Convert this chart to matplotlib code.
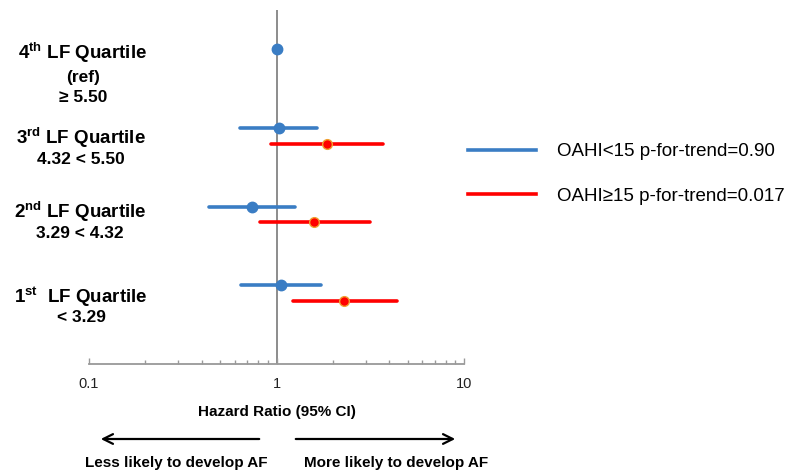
import numpy as np
import matplotlib
matplotlib.use("Agg")
import matplotlib.pyplot as plt
from matplotlib.lines import Line2D
from matplotlib.ticker import LogLocator, NullFormatter, FixedLocator, FixedFormatter

plt.rcParams['font.family'] = ['Liberation Sans', 'DejaVu Sans']
plt.rcParams['mathtext.fontset'] = 'custom'
plt.rcParams['mathtext.rm'] = 'Liberation Sans'
plt.rcParams['mathtext.bf'] = 'Liberation Sans:bold'

# quartile rows, top to bottom
row_titles = ['4$^{\\mathbf{th}}$ LF Quartile', '3$^{\\mathbf{rd}}$ LF Quartile',
              '2$^{\\mathbf{nd}}$ LF Quartile', '1$^{\\mathbf{st}}$  LF Quartile']
row_ranges = [['(ref)', '\u2265 5.50'], ['4.32 < 5.50'], ['3.29 < 4.32'], ['< 3.29']]
row_pos = [3, 2, 1, 0]

# OAHI < 15 (blue)
low_hr = [1.00, 1.03, 0.74, 1.06]
low_lo = [1.00, 0.64, 0.435, 0.65]
low_hi = [1.00, 1.65, 1.26, 1.72]

# OAHI >= 15 (red), no estimate for the reference row
high_hr = [np.nan, 1.85, 1.59, 2.29]
high_lo = [np.nan, 0.94, 0.82, 1.22]
high_hi = [np.nan, 3.68, 3.15, 4.40]

legend_labels = ['OAHI<15 p-for-trend=0.90', 'OAHI\u226515 p-for-trend=0.017']
x_ticks = [0.1, 1, 10]
x_ticklabels = ['0.1', '1', '10']

BLUE = '#3a7dc4'
RED = '#ff0000'
W, H = 796, 473


def px(x, y):
    """pixel position -> figure fraction"""
    return x / W, 1 - y / H


fig = plt.figure(figsize=(7.96, 4.73), dpi=100)
ax = fig.add_axes([89 / W, 1 - 364 / H, 375 / W, 354 / H])

ax.axvline(1, color='#8c8c8c', lw=1.4, zorder=1)

red_off = 0.2
for i, y in enumerate(row_pos):
    if low_lo[i] != low_hi[i]:
        ax.plot([low_lo[i], low_hi[i]], [y, y], color=BLUE, lw=2.6,
                solid_capstyle='round', zorder=2)
    ax.plot(low_hr[i], y, 'o', color=BLUE, ms=7.5, zorder=3)
    if not np.isnan(high_hr[i]):
        yr = y - red_off
        ax.plot([high_lo[i], high_hi[i]], [yr, yr], color=RED, lw=2.6,
                solid_capstyle='round', zorder=2)
        ax.plot(high_hr[i], yr, 'o', color=RED, mec='#f0a030', mew=1.0,
                ms=7, zorder=3)

ax.set_xscale('log')
ax.set_xlim(0.1, 10)
ax.set_ylim(-1.0, 3.5)
ax.xaxis.set_major_locator(FixedLocator(x_ticks))
ax.xaxis.set_major_formatter(FixedFormatter(x_ticklabels))
ax.xaxis.set_minor_locator(LogLocator(base=10, subs=np.arange(2, 10)))
ax.xaxis.set_minor_formatter(NullFormatter())
ax.tick_params(axis='x', which='major', direction='in', length=4, width=1,
               color='#999999', labelsize=10.5, pad=9, labelcolor='#222222')
ax.tick_params(axis='x', which='minor', direction='in', length=3, width=1,
               color='#999999')
ax.set_yticks([])
for side in ['left', 'right', 'top']:
    ax.spines[side].set_visible(False)
ax.spines['bottom'].set_color('#999999')
ax.spines['bottom'].set_linewidth(1.3)

# row labels on the left
title_y = [53, 138, 212, 297]
range_y = [[77, 98], [159], [233], [318]]
label_x = [83, 81, 80, 81]
for i in range(len(row_titles)):
    fig.text(*px(label_x[i], title_y[i]), row_titles[i], ha='center', va='center',
             fontsize=13.5, fontweight='bold')
    for txt, yy in zip(row_ranges[i], range_y[i]):
        fig.text(*px(label_x[i], yy), txt, ha='center', va='center',
                 fontsize=12.5, fontweight='bold')

fig.text(*px(277, 412), 'Hazard Ratio (95% CI)', ha='center', va='center',
         fontsize=11, fontweight='bold')

# direction arrows
arrow = dict(arrowstyle='->,head_length=0.7,head_width=0.35', color='black', lw=1.6)
ax.annotate('', xy=px(98, 439), xytext=px(262, 439), xycoords='figure fraction',
            textcoords='figure fraction', arrowprops=arrow)
ax.annotate('', xy=px(458, 439), xytext=px(293, 439), xycoords='figure fraction',
            textcoords='figure fraction', arrowprops=arrow)
fig.text(*px(176, 463), 'Less likely to develop AF', ha='center', va='center',
         fontsize=11, fontweight='bold')
fig.text(*px(396, 463), 'More likely to develop AF', ha='center', va='center',
         fontsize=11, fontweight='bold')

handles = [Line2D([], [], color=BLUE, lw=2.6), Line2D([], [], color=RED, lw=2.6)]
fig.legend(handles, legend_labels, loc='center left', bbox_to_anchor=px(468, 174),
           frameon=False, fontsize=13.5, borderpad=0, borderaxespad=0,
           handlelength=3.6, handletextpad=1.15, labelspacing=1.45)

fig.savefig('out.png', dpi=100)
